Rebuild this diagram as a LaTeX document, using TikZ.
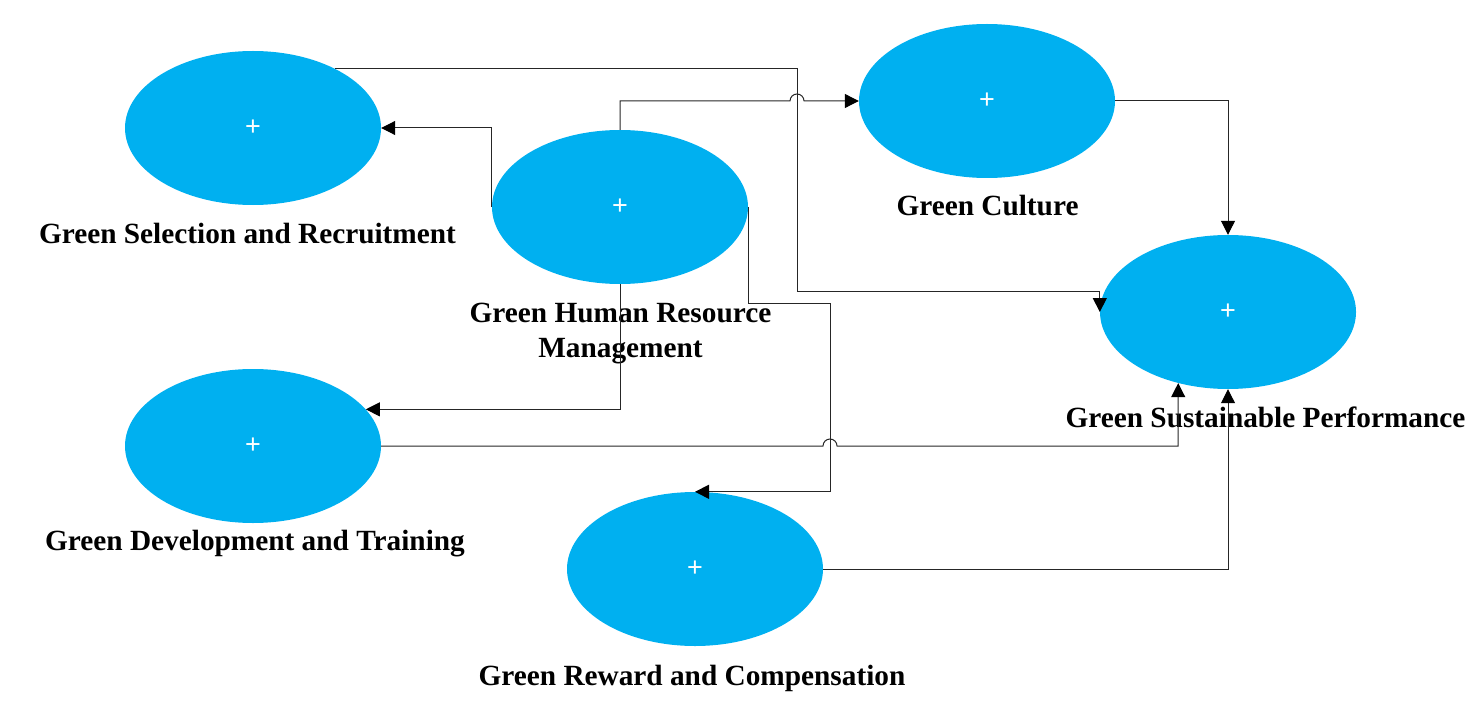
\documentclass[tikz,border=0pt]{standalone}
\usepackage{fontspec}
\setmainfont{Liberation Serif}
\newfontfamily\plusfont{Liberation Sans}
\usetikzlibrary{shapes.geometric,arrows.meta}
\definecolor{cblue}{HTML}{00B0F0}
\tikzset{
  construct/.style={ellipse, fill=cblue, draw=none, minimum width=256pt, minimum height=154pt, inner sep=0pt,
    text=white, font=\plusfont\fontsize{27}{27}\selectfont},
  lbl/.style={anchor=base, font=\bfseries\fontsize{29.3}{35}\selectfont, align=center, inner sep=0pt},
  conn/.style={draw=black!85, line width=1pt, -{Triangle[length=14pt,width=14pt,fill=black,color=black]}},
}
\begin{document}
\begin{tikzpicture}[x=1pt,y=-1pt]
\useasboundingbox (0,0) rectangle (1479,714);
% constructs
\node[construct] (gsr)  at (253,128) {\raisebox{-2pt}{+}};
\node[construct] (ghrm) at (620,207) {\raisebox{-2pt}{+}};
\node[construct] (gc)   at (987,101) {\raisebox{-2pt}{+}};
\node[construct] (gsp)  at (1228,312) {\raisebox{-2pt}{+}};
\node[construct] (gdt)  at (253,446) {\raisebox{-2pt}{+}};
\node[construct] (grc)  at (695,569) {\raisebox{-2pt}{+}};
% labels
\node[lbl] (gsrl)  at (247.5,243) {Green Selection and Recruitment};
\node[lbl] (ghrml) at (620.5,357) {Green Human Resource\\Management};
\node[lbl] (gcl)   at (987.5,215) {Green Culture};
\node[lbl] (gspl)  at (1265.5,427) {Green Sustainable Performance};
\node[lbl] (gdtl)  at (255,550) {Green Development and Training};
\node[lbl] (grcl)  at (692,685) {Green Reward and Compensation};
% bend points
\coordinate (b1) at (797,291);
\coordinate (b2) at (830,303);
\coordinate (h1) at (790,101);
\coordinate (h2) at (823,446);
% connectors
\draw[conn] (ghrm.west) |- (gsr.east);
\draw[conn] (ghrm.north) |- (h1) arc[start angle=180,end angle=0,radius=7pt] -- (gc.west);
\draw[conn] (gsr.36.87) -| (b1) -| (gsp.west);
\draw[conn] (ghrm.south) |- (gdt.18.9);
\draw[conn] (ghrm.east) |- (b2) |- (grc.north);
\draw[conn] (gdt.east) -- (h2) arc[start angle=180,end angle=0,radius=7pt] -- (gdt.east -| gsp.235.4) -- (gsp.235.4);
\draw[conn] (grc.east) -| (gsp.south);
\draw[conn] (gc.east) -| (gsp.north);
\end{tikzpicture}
\end{document}
